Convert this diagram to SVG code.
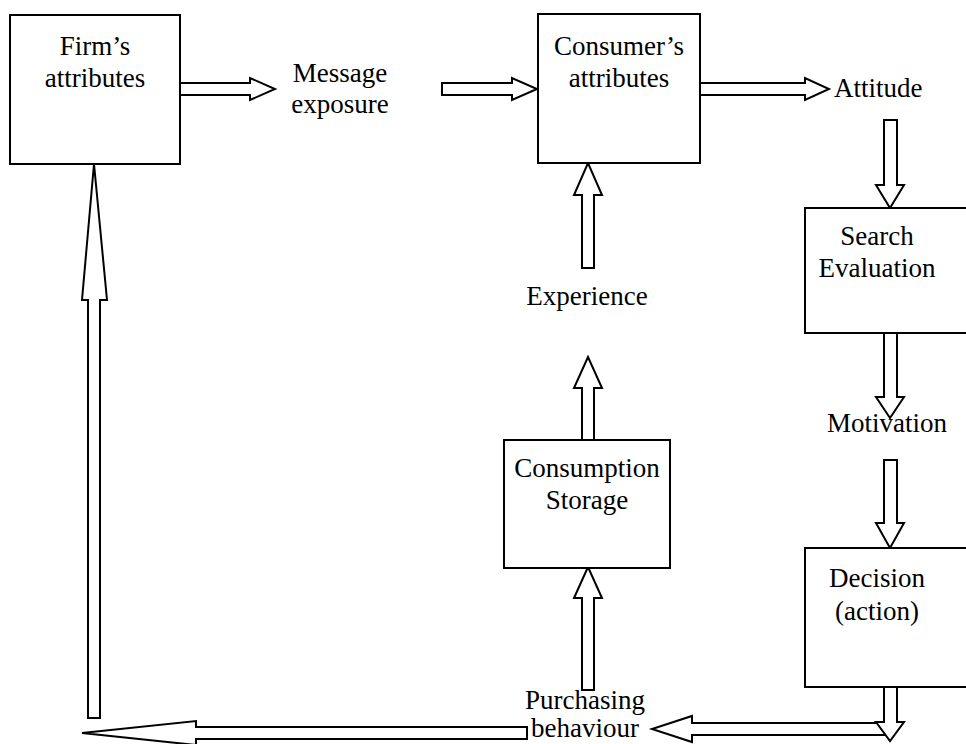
<svg xmlns="http://www.w3.org/2000/svg" width="966" height="744" viewBox="0 0 966 744">
<style>
.box{fill:#fff;stroke:#000;stroke-width:2}
.arr{fill:#fff;stroke:#000;stroke-width:2;stroke-linejoin:miter}
.t{font-family:'Liberation Serif','Times New Roman',Tinos,'DejaVu Serif','Noto Serif',serif;font-size:27px;fill:#000}
.c{text-anchor:middle}
</style>
<rect width="966" height="744" fill="#fff"/>
<g id="connectors">
<polygon class="arr" points="180,83 250,83 250,78 275,89 250,100 250,95 180,95"/>
<polygon class="arr" points="442,83 512,83 512,78 537,89 512,100 512,95 442,95"/>
<polygon class="arr" points="700,83 805,83 805,78 829,89 805,100 805,95 700,95"/>
<polygon class="arr" points="884,120 897,120 897,185 904,185 890,208 876,185 884,185"/>
<polygon class="arr" points="884,333 897,333 897,397 904,397 890,418 876,397 884,397"/>
<polygon class="arr" points="884,460 897,460 897,523 904,523 890,548 876,523 884,523"/>
<polygon class="arr" points="886,723 692,723 692,716 652,729 692,742 692,735 886,735"/>
<polygon class="arr" points="884,687 897,687 897,722 904,722 890,741 876,722 884,722"/>
<polygon class="arr" points="527,727 196,727 196,721 82,733 196,745 196,739 527,739"/>
<polygon class="arr" points="88,718 88,300 82,300 94,164 107,300 100,300 100,718"/>
<polygon class="arr" points="582,268 582,195 574,195 588,163 602,195 594,195 594,268"/>
<polygon class="arr" points="582,440 582,388 574,388 588,357 602,388 594,388 594,440"/>
<polygon class="arr" points="582,690 582,598 574,598 588,567 602,598 594,598 594,690"/>
</g>
<g font-family="Liberation Serif, Times New Roman, DejaVu Serif, serif">
<g id="firm"><rect class="box" x="10" y="15" width="170" height="149"/><text class="t c" x="95" y="55">Firm’s</text><text class="t c" x="95" y="87">attributes</text></g>
<g id="message"><text class="t c" x="340" y="82">Message</text><text class="t c" x="340" y="113">exposure</text></g>
<g id="consumer"><rect class="box" x="538" y="14" width="162" height="149"/><text class="t c" x="619" y="55">Consumer’s</text><text class="t c" x="619" y="87">attributes</text></g>
<g id="attitude"><text class="t" x="834" y="97">Attitude</text></g>
<g id="search"><rect class="box" x="805" y="208" width="170" height="125"/><text class="t c" x="877" y="245">Search</text><text class="t c" x="877" y="277">Evaluation</text></g>
<g id="experience"><text class="t c" x="587" y="305">Experience</text></g>
<g id="motivation"><text class="t c" x="887" y="432">Motivation</text></g>
<g id="consumption"><rect class="box" x="504" y="440" width="166" height="128"/><text class="t c" x="587" y="477">Consumption</text><text class="t c" x="587" y="509">Storage</text></g>
<g id="decision"><rect class="box" x="805" y="548" width="170" height="139"/><text class="t c" x="877" y="587">Decision</text><text class="t c" x="877" y="620">(action)</text></g>
<g id="purchasing"><text class="t c" x="585" y="709">Purchasing</text><text class="t c" x="585" y="737">behaviour</text></g>
</g>
</svg>
